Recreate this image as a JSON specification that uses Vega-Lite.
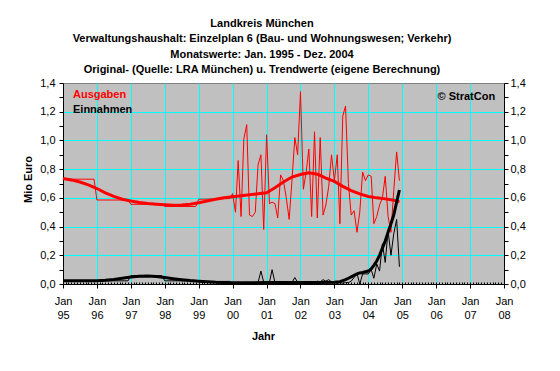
{
  "$schema": "https://vega.github.io/schema/vega-lite/v6.json",
  "width": 441,
  "height": 201,
  "autosize": {"type": "none"},
  "padding": {"left": 63, "top": 83, "right": 56, "bottom": 87},
  "background": "white",
  "title": {
    "text": ["Landkreis München", "Verwaltungshaushalt: Einzelplan 6 (Bau- und Wohnungswesen; Verkehr)", "Monatswerte: Jan. 1995 - Dez. 2004", "Original- (Quelle: LRA München) u. Trendwerte (eigene Berechnung)"],
    "font": "Liberation Sans", "fontSize": 11, "fontWeight": "bold", "color": "black",
    "anchor": "middle", "dx": -21.5, "offset": 2, "lineHeight": 15.3
  },
  "config": {
    "font": "Liberation Sans",
    "view": {"fill": "#C0C0C0", "stroke": "#808080", "strokeWidth": 1},
    "axis": {
      "labelFont": "Liberation Sans", "labelFontSize": 11, "labelColor": "black",
      "titleFont": "Liberation Sans", "titleFontSize": 11, "titleFontWeight": "bold", "titleColor": "black",
      "domainColor": "black", "tickColor": "black", "gridColor": "#00FFFF", "gridWidth": 1
    }
  },
  "data": {"values": [
    {"Monat": "1995-01-01", "Wert": 0.73, "Reihe": "Ausgaben", "Art": "Original"},
    {"Monat": "1995-12-01", "Wert": 0.73, "Reihe": "Ausgaben", "Art": "Original"},
    {"Monat": "1996-01-01", "Wert": 0.585, "Reihe": "Ausgaben", "Art": "Original"},
    {"Monat": "1996-12-01", "Wert": 0.585, "Reihe": "Ausgaben", "Art": "Original"},
    {"Monat": "1997-01-01", "Wert": 0.555, "Reihe": "Ausgaben", "Art": "Original"},
    {"Monat": "1997-12-01", "Wert": 0.555, "Reihe": "Ausgaben", "Art": "Original"},
    {"Monat": "1998-01-01", "Wert": 0.54, "Reihe": "Ausgaben", "Art": "Original"},
    {"Monat": "1998-12-01", "Wert": 0.54, "Reihe": "Ausgaben", "Art": "Original"},
    {"Monat": "1999-01-01", "Wert": 0.59, "Reihe": "Ausgaben", "Art": "Original"},
    {"Monat": "1999-12-01", "Wert": 0.595, "Reihe": "Ausgaben", "Art": "Original"},
    {"Monat": "2000-01-01", "Wert": 0.63, "Reihe": "Ausgaben", "Art": "Original"},
    {"Monat": "2000-02-01", "Wert": 0.5, "Reihe": "Ausgaben", "Art": "Original"},
    {"Monat": "2000-03-01", "Wert": 0.86, "Reihe": "Ausgaben", "Art": "Original"},
    {"Monat": "2000-04-01", "Wert": 0.47, "Reihe": "Ausgaben", "Art": "Original"},
    {"Monat": "2000-05-01", "Wert": 1.01, "Reihe": "Ausgaben", "Art": "Original"},
    {"Monat": "2000-06-01", "Wert": 1.11, "Reihe": "Ausgaben", "Art": "Original"},
    {"Monat": "2000-07-01", "Wert": 0.48, "Reihe": "Ausgaben", "Art": "Original"},
    {"Monat": "2000-08-01", "Wert": 0.47, "Reihe": "Ausgaben", "Art": "Original"},
    {"Monat": "2000-09-01", "Wert": 0.5, "Reihe": "Ausgaben", "Art": "Original"},
    {"Monat": "2000-10-01", "Wert": 0.83, "Reihe": "Ausgaben", "Art": "Original"},
    {"Monat": "2000-11-01", "Wert": 0.9, "Reihe": "Ausgaben", "Art": "Original"},
    {"Monat": "2000-12-01", "Wert": 0.38, "Reihe": "Ausgaben", "Art": "Original"},
    {"Monat": "2001-01-01", "Wert": 1.04, "Reihe": "Ausgaben", "Art": "Original"},
    {"Monat": "2001-02-01", "Wert": 0.56, "Reihe": "Ausgaben", "Art": "Original"},
    {"Monat": "2001-03-01", "Wert": 0.57, "Reihe": "Ausgaben", "Art": "Original"},
    {"Monat": "2001-04-01", "Wert": 0.56, "Reihe": "Ausgaben", "Art": "Original"},
    {"Monat": "2001-05-01", "Wert": 0.46, "Reihe": "Ausgaben", "Art": "Original"},
    {"Monat": "2001-06-01", "Wert": 0.76, "Reihe": "Ausgaben", "Art": "Original"},
    {"Monat": "2001-07-01", "Wert": 0.72, "Reihe": "Ausgaben", "Art": "Original"},
    {"Monat": "2001-08-01", "Wert": 0.6, "Reihe": "Ausgaben", "Art": "Original"},
    {"Monat": "2001-09-01", "Wert": 0.45, "Reihe": "Ausgaben", "Art": "Original"},
    {"Monat": "2001-10-01", "Wert": 0.72, "Reihe": "Ausgaben", "Art": "Original"},
    {"Monat": "2001-11-01", "Wert": 1.02, "Reihe": "Ausgaben", "Art": "Original"},
    {"Monat": "2001-12-01", "Wert": 0.9, "Reihe": "Ausgaben", "Art": "Original"},
    {"Monat": "2002-01-01", "Wert": 1.34, "Reihe": "Ausgaben", "Art": "Original"},
    {"Monat": "2002-02-01", "Wert": 0.66, "Reihe": "Ausgaben", "Art": "Original"},
    {"Monat": "2002-03-01", "Wert": 0.77, "Reihe": "Ausgaben", "Art": "Original"},
    {"Monat": "2002-04-01", "Wert": 0.94, "Reihe": "Ausgaben", "Art": "Original"},
    {"Monat": "2002-05-01", "Wert": 0.47, "Reihe": "Ausgaben", "Art": "Original"},
    {"Monat": "2002-06-01", "Wert": 1.06, "Reihe": "Ausgaben", "Art": "Original"},
    {"Monat": "2002-07-01", "Wert": 0.46, "Reihe": "Ausgaben", "Art": "Original"},
    {"Monat": "2002-08-01", "Wert": 1.02, "Reihe": "Ausgaben", "Art": "Original"},
    {"Monat": "2002-09-01", "Wert": 0.48, "Reihe": "Ausgaben", "Art": "Original"},
    {"Monat": "2002-10-01", "Wert": 0.55, "Reihe": "Ausgaben", "Art": "Original"},
    {"Monat": "2002-11-01", "Wert": 0.68, "Reihe": "Ausgaben", "Art": "Original"},
    {"Monat": "2002-12-01", "Wert": 0.9, "Reihe": "Ausgaben", "Art": "Original"},
    {"Monat": "2003-01-01", "Wert": 0.72, "Reihe": "Ausgaben", "Art": "Original"},
    {"Monat": "2003-02-01", "Wert": 0.9, "Reihe": "Ausgaben", "Art": "Original"},
    {"Monat": "2003-03-01", "Wert": 0.42, "Reihe": "Ausgaben", "Art": "Original"},
    {"Monat": "2003-04-01", "Wert": 1.17, "Reihe": "Ausgaben", "Art": "Original"},
    {"Monat": "2003-05-01", "Wert": 1.24, "Reihe": "Ausgaben", "Art": "Original"},
    {"Monat": "2003-06-01", "Wert": 0.7, "Reihe": "Ausgaben", "Art": "Original"},
    {"Monat": "2003-07-01", "Wert": 0.48, "Reihe": "Ausgaben", "Art": "Original"},
    {"Monat": "2003-08-01", "Wert": 0.51, "Reihe": "Ausgaben", "Art": "Original"},
    {"Monat": "2003-09-01", "Wert": 0.36, "Reihe": "Ausgaben", "Art": "Original"},
    {"Monat": "2003-10-01", "Wert": 0.5, "Reihe": "Ausgaben", "Art": "Original"},
    {"Monat": "2003-11-01", "Wert": 0.78, "Reihe": "Ausgaben", "Art": "Original"},
    {"Monat": "2003-12-01", "Wert": 0.72, "Reihe": "Ausgaben", "Art": "Original"},
    {"Monat": "2004-01-01", "Wert": 0.76, "Reihe": "Ausgaben", "Art": "Original"},
    {"Monat": "2004-02-01", "Wert": 0.75, "Reihe": "Ausgaben", "Art": "Original"},
    {"Monat": "2004-03-01", "Wert": 0.42, "Reihe": "Ausgaben", "Art": "Original"},
    {"Monat": "2004-04-01", "Wert": 0.47, "Reihe": "Ausgaben", "Art": "Original"},
    {"Monat": "2004-05-01", "Wert": 0.55, "Reihe": "Ausgaben", "Art": "Original"},
    {"Monat": "2004-06-01", "Wert": 0.6, "Reihe": "Ausgaben", "Art": "Original"},
    {"Monat": "2004-07-01", "Wert": 0.75, "Reihe": "Ausgaben", "Art": "Original"},
    {"Monat": "2004-08-01", "Wert": 0.47, "Reihe": "Ausgaben", "Art": "Original"},
    {"Monat": "2004-09-01", "Wert": 0.36, "Reihe": "Ausgaben", "Art": "Original"},
    {"Monat": "2004-10-01", "Wert": 0.65, "Reihe": "Ausgaben", "Art": "Original"},
    {"Monat": "2004-11-01", "Wert": 0.92, "Reihe": "Ausgaben", "Art": "Original"},
    {"Monat": "2004-12-01", "Wert": 0.72, "Reihe": "Ausgaben", "Art": "Original"},

    {"Monat": "1995-01-01", "Wert": 0.735, "Reihe": "Ausgaben", "Art": "Trend"},
    {"Monat": "1995-04-01", "Wert": 0.725, "Reihe": "Ausgaben", "Art": "Trend"},
    {"Monat": "1995-07-01", "Wert": 0.71, "Reihe": "Ausgaben", "Art": "Trend"},
    {"Monat": "1995-10-01", "Wert": 0.69, "Reihe": "Ausgaben", "Art": "Trend"},
    {"Monat": "1996-01-01", "Wert": 0.665, "Reihe": "Ausgaben", "Art": "Trend"},
    {"Monat": "1996-04-01", "Wert": 0.635, "Reihe": "Ausgaben", "Art": "Trend"},
    {"Monat": "1996-07-01", "Wert": 0.61, "Reihe": "Ausgaben", "Art": "Trend"},
    {"Monat": "1996-10-01", "Wert": 0.59, "Reihe": "Ausgaben", "Art": "Trend"},
    {"Monat": "1997-01-01", "Wert": 0.578, "Reihe": "Ausgaben", "Art": "Trend"},
    {"Monat": "1997-04-01", "Wert": 0.568, "Reihe": "Ausgaben", "Art": "Trend"},
    {"Monat": "1997-07-01", "Wert": 0.56, "Reihe": "Ausgaben", "Art": "Trend"},
    {"Monat": "1997-10-01", "Wert": 0.556, "Reihe": "Ausgaben", "Art": "Trend"},
    {"Monat": "1998-01-01", "Wert": 0.552, "Reihe": "Ausgaben", "Art": "Trend"},
    {"Monat": "1998-04-01", "Wert": 0.548, "Reihe": "Ausgaben", "Art": "Trend"},
    {"Monat": "1998-07-01", "Wert": 0.55, "Reihe": "Ausgaben", "Art": "Trend"},
    {"Monat": "1998-10-01", "Wert": 0.556, "Reihe": "Ausgaben", "Art": "Trend"},
    {"Monat": "1999-01-01", "Wert": 0.566, "Reihe": "Ausgaben", "Art": "Trend"},
    {"Monat": "1999-04-01", "Wert": 0.578, "Reihe": "Ausgaben", "Art": "Trend"},
    {"Monat": "1999-07-01", "Wert": 0.59, "Reihe": "Ausgaben", "Art": "Trend"},
    {"Monat": "1999-10-01", "Wert": 0.6, "Reihe": "Ausgaben", "Art": "Trend"},
    {"Monat": "2000-01-01", "Wert": 0.608, "Reihe": "Ausgaben", "Art": "Trend"},
    {"Monat": "2000-04-01", "Wert": 0.615, "Reihe": "Ausgaben", "Art": "Trend"},
    {"Monat": "2000-07-01", "Wert": 0.622, "Reihe": "Ausgaben", "Art": "Trend"},
    {"Monat": "2000-10-01", "Wert": 0.628, "Reihe": "Ausgaben", "Art": "Trend"},
    {"Monat": "2001-01-01", "Wert": 0.636, "Reihe": "Ausgaben", "Art": "Trend"},
    {"Monat": "2001-04-01", "Wert": 0.67, "Reihe": "Ausgaben", "Art": "Trend"},
    {"Monat": "2001-07-01", "Wert": 0.71, "Reihe": "Ausgaben", "Art": "Trend"},
    {"Monat": "2001-10-01", "Wert": 0.745, "Reihe": "Ausgaben", "Art": "Trend"},
    {"Monat": "2002-01-01", "Wert": 0.763, "Reihe": "Ausgaben", "Art": "Trend"},
    {"Monat": "2002-04-01", "Wert": 0.775, "Reihe": "Ausgaben", "Art": "Trend"},
    {"Monat": "2002-07-01", "Wert": 0.765, "Reihe": "Ausgaben", "Art": "Trend"},
    {"Monat": "2002-10-01", "Wert": 0.738, "Reihe": "Ausgaben", "Art": "Trend"},
    {"Monat": "2003-01-01", "Wert": 0.715, "Reihe": "Ausgaben", "Art": "Trend"},
    {"Monat": "2003-04-01", "Wert": 0.68, "Reihe": "Ausgaben", "Art": "Trend"},
    {"Monat": "2003-07-01", "Wert": 0.65, "Reihe": "Ausgaben", "Art": "Trend"},
    {"Monat": "2003-10-01", "Wert": 0.628, "Reihe": "Ausgaben", "Art": "Trend"},
    {"Monat": "2004-01-01", "Wert": 0.61, "Reihe": "Ausgaben", "Art": "Trend"},
    {"Monat": "2004-04-01", "Wert": 0.6, "Reihe": "Ausgaben", "Art": "Trend"},
    {"Monat": "2004-07-01", "Wert": 0.593, "Reihe": "Ausgaben", "Art": "Trend"},
    {"Monat": "2004-10-01", "Wert": 0.583, "Reihe": "Ausgaben", "Art": "Trend"},
    {"Monat": "2004-12-01", "Wert": 0.572, "Reihe": "Ausgaben", "Art": "Trend"},

    {"Monat": "1995-01-01", "Wert": 0.022, "Reihe": "Einnahmen", "Art": "Original"},
    {"Monat": "1995-12-01", "Wert": 0.022, "Reihe": "Einnahmen", "Art": "Original"},
    {"Monat": "1996-01-01", "Wert": 0.022, "Reihe": "Einnahmen", "Art": "Original"},
    {"Monat": "1996-12-01", "Wert": 0.022, "Reihe": "Einnahmen", "Art": "Original"},
    {"Monat": "1997-01-01", "Wert": 0.058, "Reihe": "Einnahmen", "Art": "Original"},
    {"Monat": "1997-12-01", "Wert": 0.058, "Reihe": "Einnahmen", "Art": "Original"},
    {"Monat": "1998-01-01", "Wert": 0.022, "Reihe": "Einnahmen", "Art": "Original"},
    {"Monat": "1998-12-01", "Wert": 0.022, "Reihe": "Einnahmen", "Art": "Original"},
    {"Monat": "1999-01-01", "Wert": 0.018, "Reihe": "Einnahmen", "Art": "Original"},
    {"Monat": "1999-12-01", "Wert": 0.018, "Reihe": "Einnahmen", "Art": "Original"},
    {"Monat": "2000-01-01", "Wert": 0.005, "Reihe": "Einnahmen", "Art": "Original"},
    {"Monat": "2000-02-01", "Wert": 0.01, "Reihe": "Einnahmen", "Art": "Original"},
    {"Monat": "2000-03-01", "Wert": 0.012, "Reihe": "Einnahmen", "Art": "Original"},
    {"Monat": "2000-04-01", "Wert": 0.008, "Reihe": "Einnahmen", "Art": "Original"},
    {"Monat": "2000-05-01", "Wert": 0.01, "Reihe": "Einnahmen", "Art": "Original"},
    {"Monat": "2000-06-01", "Wert": 0.012, "Reihe": "Einnahmen", "Art": "Original"},
    {"Monat": "2000-07-01", "Wert": 0.01, "Reihe": "Einnahmen", "Art": "Original"},
    {"Monat": "2000-08-01", "Wert": 0.01, "Reihe": "Einnahmen", "Art": "Original"},
    {"Monat": "2000-09-01", "Wert": 0.012, "Reihe": "Einnahmen", "Art": "Original"},
    {"Monat": "2000-10-01", "Wert": 0.01, "Reihe": "Einnahmen", "Art": "Original"},
    {"Monat": "2000-11-01", "Wert": 0.09, "Reihe": "Einnahmen", "Art": "Original"},
    {"Monat": "2000-12-01", "Wert": 0.012, "Reihe": "Einnahmen", "Art": "Original"},
    {"Monat": "2001-01-01", "Wert": 0.01, "Reihe": "Einnahmen", "Art": "Original"},
    {"Monat": "2001-02-01", "Wert": 0.012, "Reihe": "Einnahmen", "Art": "Original"},
    {"Monat": "2001-03-01", "Wert": 0.1, "Reihe": "Einnahmen", "Art": "Original"},
    {"Monat": "2001-04-01", "Wert": 0.01, "Reihe": "Einnahmen", "Art": "Original"},
    {"Monat": "2001-05-01", "Wert": 0.012, "Reihe": "Einnahmen", "Art": "Original"},
    {"Monat": "2001-06-01", "Wert": 0.01, "Reihe": "Einnahmen", "Art": "Original"},
    {"Monat": "2001-07-01", "Wert": 0.015, "Reihe": "Einnahmen", "Art": "Original"},
    {"Monat": "2001-08-01", "Wert": 0.01, "Reihe": "Einnahmen", "Art": "Original"},
    {"Monat": "2001-09-01", "Wert": 0.012, "Reihe": "Einnahmen", "Art": "Original"},
    {"Monat": "2001-10-01", "Wert": 0.01, "Reihe": "Einnahmen", "Art": "Original"},
    {"Monat": "2001-11-01", "Wert": 0.045, "Reihe": "Einnahmen", "Art": "Original"},
    {"Monat": "2001-12-01", "Wert": 0.012, "Reihe": "Einnahmen", "Art": "Original"},
    {"Monat": "2002-01-01", "Wert": 0.01, "Reihe": "Einnahmen", "Art": "Original"},
    {"Monat": "2002-02-01", "Wert": 0.012, "Reihe": "Einnahmen", "Art": "Original"},
    {"Monat": "2002-03-01", "Wert": 0.01, "Reihe": "Einnahmen", "Art": "Original"},
    {"Monat": "2002-04-01", "Wert": 0.015, "Reihe": "Einnahmen", "Art": "Original"},
    {"Monat": "2002-05-01", "Wert": 0.012, "Reihe": "Einnahmen", "Art": "Original"},
    {"Monat": "2002-06-01", "Wert": 0.01, "Reihe": "Einnahmen", "Art": "Original"},
    {"Monat": "2002-07-01", "Wert": 0.02, "Reihe": "Einnahmen", "Art": "Original"},
    {"Monat": "2002-08-01", "Wert": 0.015, "Reihe": "Einnahmen", "Art": "Original"},
    {"Monat": "2002-09-01", "Wert": 0.03, "Reihe": "Einnahmen", "Art": "Original"},
    {"Monat": "2002-10-01", "Wert": 0.02, "Reihe": "Einnahmen", "Art": "Original"},
    {"Monat": "2002-11-01", "Wert": 0.03, "Reihe": "Einnahmen", "Art": "Original"},
    {"Monat": "2002-12-01", "Wert": 0.015, "Reihe": "Einnahmen", "Art": "Original"},
    {"Monat": "2003-01-01", "Wert": 0.01, "Reihe": "Einnahmen", "Art": "Original"},
    {"Monat": "2003-02-01", "Wert": 0.005, "Reihe": "Einnahmen", "Art": "Original"},
    {"Monat": "2003-03-01", "Wert": 0.01, "Reihe": "Einnahmen", "Art": "Original"},
    {"Monat": "2003-04-01", "Wert": 0.005, "Reihe": "Einnahmen", "Art": "Original"},
    {"Monat": "2003-05-01", "Wert": 0.01, "Reihe": "Einnahmen", "Art": "Original"},
    {"Monat": "2003-06-01", "Wert": 0.01, "Reihe": "Einnahmen", "Art": "Original"},
    {"Monat": "2003-07-01", "Wert": 0.02, "Reihe": "Einnahmen", "Art": "Original"},
    {"Monat": "2003-08-01", "Wert": 0.045, "Reihe": "Einnahmen", "Art": "Original"},
    {"Monat": "2003-09-01", "Wert": 0.075, "Reihe": "Einnahmen", "Art": "Original"},
    {"Monat": "2003-10-01", "Wert": 0.0, "Reihe": "Einnahmen", "Art": "Original"},
    {"Monat": "2003-11-01", "Wert": 0.07, "Reihe": "Einnahmen", "Art": "Original"},
    {"Monat": "2003-12-01", "Wert": 0.07, "Reihe": "Einnahmen", "Art": "Original"},
    {"Monat": "2004-01-01", "Wert": 0.07, "Reihe": "Einnahmen", "Art": "Original"},
    {"Monat": "2004-02-01", "Wert": 0.1, "Reihe": "Einnahmen", "Art": "Original"},
    {"Monat": "2004-03-01", "Wert": 0.04, "Reihe": "Einnahmen", "Art": "Original"},
    {"Monat": "2004-04-01", "Wert": 0.14, "Reihe": "Einnahmen", "Art": "Original"},
    {"Monat": "2004-05-01", "Wert": 0.09, "Reihe": "Einnahmen", "Art": "Original"},
    {"Monat": "2004-06-01", "Wert": 0.28, "Reihe": "Einnahmen", "Art": "Original"},
    {"Monat": "2004-07-01", "Wert": 0.15, "Reihe": "Einnahmen", "Art": "Original"},
    {"Monat": "2004-08-01", "Wert": 0.37, "Reihe": "Einnahmen", "Art": "Original"},
    {"Monat": "2004-09-01", "Wert": 0.2, "Reihe": "Einnahmen", "Art": "Original"},
    {"Monat": "2004-10-01", "Wert": 0.35, "Reihe": "Einnahmen", "Art": "Original"},
    {"Monat": "2004-11-01", "Wert": 0.45, "Reihe": "Einnahmen", "Art": "Original"},
    {"Monat": "2004-12-01", "Wert": 0.12, "Reihe": "Einnahmen", "Art": "Original"},

    {"Monat": "1995-01-01", "Wert": 0.022, "Reihe": "Einnahmen", "Art": "Trend"},
    {"Monat": "1995-07-01", "Wert": 0.022, "Reihe": "Einnahmen", "Art": "Trend"},
    {"Monat": "1996-01-01", "Wert": 0.023, "Reihe": "Einnahmen", "Art": "Trend"},
    {"Monat": "1996-04-01", "Wert": 0.026, "Reihe": "Einnahmen", "Art": "Trend"},
    {"Monat": "1996-07-01", "Wert": 0.032, "Reihe": "Einnahmen", "Art": "Trend"},
    {"Monat": "1996-10-01", "Wert": 0.04, "Reihe": "Einnahmen", "Art": "Trend"},
    {"Monat": "1997-01-01", "Wert": 0.048, "Reihe": "Einnahmen", "Art": "Trend"},
    {"Monat": "1997-04-01", "Wert": 0.054, "Reihe": "Einnahmen", "Art": "Trend"},
    {"Monat": "1997-07-01", "Wert": 0.056, "Reihe": "Einnahmen", "Art": "Trend"},
    {"Monat": "1997-10-01", "Wert": 0.052, "Reihe": "Einnahmen", "Art": "Trend"},
    {"Monat": "1998-01-01", "Wert": 0.045, "Reihe": "Einnahmen", "Art": "Trend"},
    {"Monat": "1998-04-01", "Wert": 0.037, "Reihe": "Einnahmen", "Art": "Trend"},
    {"Monat": "1998-07-01", "Wert": 0.03, "Reihe": "Einnahmen", "Art": "Trend"},
    {"Monat": "1998-10-01", "Wert": 0.024, "Reihe": "Einnahmen", "Art": "Trend"},
    {"Monat": "1999-01-01", "Wert": 0.02, "Reihe": "Einnahmen", "Art": "Trend"},
    {"Monat": "1999-04-01", "Wert": 0.016, "Reihe": "Einnahmen", "Art": "Trend"},
    {"Monat": "1999-07-01", "Wert": 0.012, "Reihe": "Einnahmen", "Art": "Trend"},
    {"Monat": "1999-10-01", "Wert": 0.01, "Reihe": "Einnahmen", "Art": "Trend"},
    {"Monat": "2000-01-01", "Wert": 0.008, "Reihe": "Einnahmen", "Art": "Trend"},
    {"Monat": "2000-07-01", "Wert": 0.008, "Reihe": "Einnahmen", "Art": "Trend"},
    {"Monat": "2001-01-01", "Wert": 0.01, "Reihe": "Einnahmen", "Art": "Trend"},
    {"Monat": "2001-07-01", "Wert": 0.011, "Reihe": "Einnahmen", "Art": "Trend"},
    {"Monat": "2002-01-01", "Wert": 0.011, "Reihe": "Einnahmen", "Art": "Trend"},
    {"Monat": "2002-07-01", "Wert": 0.011, "Reihe": "Einnahmen", "Art": "Trend"},
    {"Monat": "2003-01-01", "Wert": 0.012, "Reihe": "Einnahmen", "Art": "Trend"},
    {"Monat": "2003-03-01", "Wert": 0.016, "Reihe": "Einnahmen", "Art": "Trend"},
    {"Monat": "2003-05-01", "Wert": 0.03, "Reihe": "Einnahmen", "Art": "Trend"},
    {"Monat": "2003-06-01", "Wert": 0.04, "Reihe": "Einnahmen", "Art": "Trend"},
    {"Monat": "2003-07-01", "Wert": 0.05, "Reihe": "Einnahmen", "Art": "Trend"},
    {"Monat": "2003-08-01", "Wert": 0.06, "Reihe": "Einnahmen", "Art": "Trend"},
    {"Monat": "2003-09-01", "Wert": 0.07, "Reihe": "Einnahmen", "Art": "Trend"},
    {"Monat": "2003-10-01", "Wert": 0.077, "Reihe": "Einnahmen", "Art": "Trend"},
    {"Monat": "2003-11-01", "Wert": 0.08, "Reihe": "Einnahmen", "Art": "Trend"},
    {"Monat": "2003-12-01", "Wert": 0.085, "Reihe": "Einnahmen", "Art": "Trend"},
    {"Monat": "2004-01-01", "Wert": 0.09, "Reihe": "Einnahmen", "Art": "Trend"},
    {"Monat": "2004-02-01", "Wert": 0.105, "Reihe": "Einnahmen", "Art": "Trend"},
    {"Monat": "2004-03-01", "Wert": 0.13, "Reihe": "Einnahmen", "Art": "Trend"},
    {"Monat": "2004-04-01", "Wert": 0.16, "Reihe": "Einnahmen", "Art": "Trend"},
    {"Monat": "2004-05-01", "Wert": 0.2, "Reihe": "Einnahmen", "Art": "Trend"},
    {"Monat": "2004-06-01", "Wert": 0.25, "Reihe": "Einnahmen", "Art": "Trend"},
    {"Monat": "2004-07-01", "Wert": 0.3, "Reihe": "Einnahmen", "Art": "Trend"},
    {"Monat": "2004-08-01", "Wert": 0.36, "Reihe": "Einnahmen", "Art": "Trend"},
    {"Monat": "2004-09-01", "Wert": 0.42, "Reihe": "Einnahmen", "Art": "Trend"},
    {"Monat": "2004-10-01", "Wert": 0.48, "Reihe": "Einnahmen", "Art": "Trend"},
    {"Monat": "2004-11-01", "Wert": 0.57, "Reihe": "Einnahmen", "Art": "Trend"},
    {"Monat": "2004-12-01", "Wert": 0.655, "Reihe": "Einnahmen", "Art": "Trend"}
  ]},
  "resolve": {"axis": {"x": "independent", "y": "independent"}, "legend": {"color": "independent"}},
  "layer": [
    {
      "transform": [{"filter": "datum.Art == 'Original'"}],
      "mark": {"type": "line", "strokeWidth": 1, "interpolate": "linear"},
      "encoding": {
        "x": {
          "field": "Monat", "type": "temporal",
          "scale": {"type": "utc", "domain": [{"year": 1995, "month": 1, "date": 1, "utc": true}, {"year": 2008, "month": 1, "date": 1, "utc": true}], "nice": false},
          "axis": {
            "orient": "bottom",
            "values": [
              {"year": 1995, "month": 1, "date": 1, "utc": true},
              {"year": 1996, "month": 1, "date": 1, "utc": true},
              {"year": 1997, "month": 1, "date": 1, "utc": true},
              {"year": 1998, "month": 1, "date": 1, "utc": true},
              {"year": 1999, "month": 1, "date": 1, "utc": true},
              {"year": 2000, "month": 1, "date": 1, "utc": true},
              {"year": 2001, "month": 1, "date": 1, "utc": true},
              {"year": 2002, "month": 1, "date": 1, "utc": true},
              {"year": 2003, "month": 1, "date": 1, "utc": true},
              {"year": 2004, "month": 1, "date": 1, "utc": true},
              {"year": 2005, "month": 1, "date": 1, "utc": true},
              {"year": 2006, "month": 1, "date": 1, "utc": true},
              {"year": 2007, "month": 1, "date": 1, "utc": true},
              {"year": 2008, "month": 1, "date": 1, "utc": true}
            ],
            "labelExpr": "['Jan', utcFormat(datum.value, '%y')]",
            "labelLineHeight": 14.3,
            "labelPadding": 7.5,
            "labelFlush": false,
            "labelOverlap": false,
            "labelAlign": "center",
            "tickSize": 4,
            "grid": true,
            "gridOpacity": {"condition": {"test": "datum.value > utc(1995,0,15) && datum.value < utc(2007,11,1)", "value": 1}, "value": 0},
            "title": "Jahr",
            "titleX": 200,
            "titleY": 52,
            "titleAlign": "center",
            "titleBaseline": "middle"
          }
        },
        "y": {
          "field": "Wert", "type": "quantitative",
          "scale": {"domain": [0, 1.4], "nice": false, "zero": true},
          "axis": {
            "orient": "left",
            "values": [0, 0.1, 0.2, 0.3, 0.4, 0.5, 0.6, 0.7, 0.8, 0.9, 1.0, 1.1, 1.2, 1.3, 1.4],
            "labelExpr": "round(datum.value*10)%2==0 ? replace(format(datum.value,'.1f'),'.',',') : ''",
            "labelOverlap": false,
            "labelFlush": false,
            "labelPadding": 4,
            "tickSize": 4,
            "grid": true,
            "gridOpacity": {"condition": {"test": "round(datum.value*10)%2==0 && datum.value > 0.05 && datum.value < 1.35", "value": 1}, "value": 0},
            "title": "Mio Euro",
            "titleX": -35,
            "titleY": 96,
            "titleAngle": -90,
            "titleAlign": "center",
            "titleBaseline": "middle"
          }
        },
        "color": {
          "field": "Reihe", "type": "nominal",
          "scale": {"domain": ["Ausgaben", "Einnahmen"], "range": ["#FF0000", "#000000"]},
          "legend": {
            "orient": "none", "legendX": -1, "legendY": 6, "title": null,
            "padding": 0, "symbolSize": 0, "symbolOpacity": 0, "symbolStrokeWidth": 0, "symbolType": "circle",
            "labelOffset": 0, "labelFontSize": 11, "labelFontWeight": "bold", "labelFont": "Liberation Sans",
            "rowPadding": 3.4,
            "encode": {"labels": {"update": {"fill": {"scale": "color", "field": "value"}}}}
          }
        }
      }
    },
    {
      "transform": [{"filter": "datum.Art == 'Trend'"}],
      "mark": {"type": "line", "strokeWidth": 3, "interpolate": "linear"},
      "encoding": {
        "x": {
          "field": "Monat", "type": "temporal",
          "axis": {"orient": "bottom", "tickCount": {"interval": "month", "step": 1}, "labels": false, "domain": false, "grid": false, "tickSize": -2, "title": null}
        },
        "y": {
          "field": "Wert", "type": "quantitative",
          "axis": {
            "orient": "right",
            "values": [0, 0.1, 0.2, 0.3, 0.4, 0.5, 0.6, 0.7, 0.8, 0.9, 1.0, 1.1, 1.2, 1.3, 1.4],
            "labelExpr": "round(datum.value*10)%2==0 ? replace(format(datum.value,'.1f'),'.',',') : ''",
            "labelOverlap": false,
            "labelFlush": false,
            "labelPadding": 2,
            "tickSize": 4,
            "grid": false,
            "title": null
          }
        },
        "color": {"field": "Reihe", "type": "nominal", "legend": null}
      }
    },
    {
      "data": {"values": [{"Hinweis": "© StratCon"}]},
      "mark": {"type": "text", "font": "Liberation Sans", "fontSize": 11, "fontWeight": "bold", "align": "left", "baseline": "middle", "color": "black"},
      "encoding": {
        "text": {"field": "Hinweis", "type": "nominal"},
        "x": {"datum": {"year": 2006, "month": 1, "date": 15, "utc": true}, "type": "temporal", "axis": null},
        "y": {"datum": 1.304, "type": "quantitative", "axis": null}
      }
    }
  ]
}
